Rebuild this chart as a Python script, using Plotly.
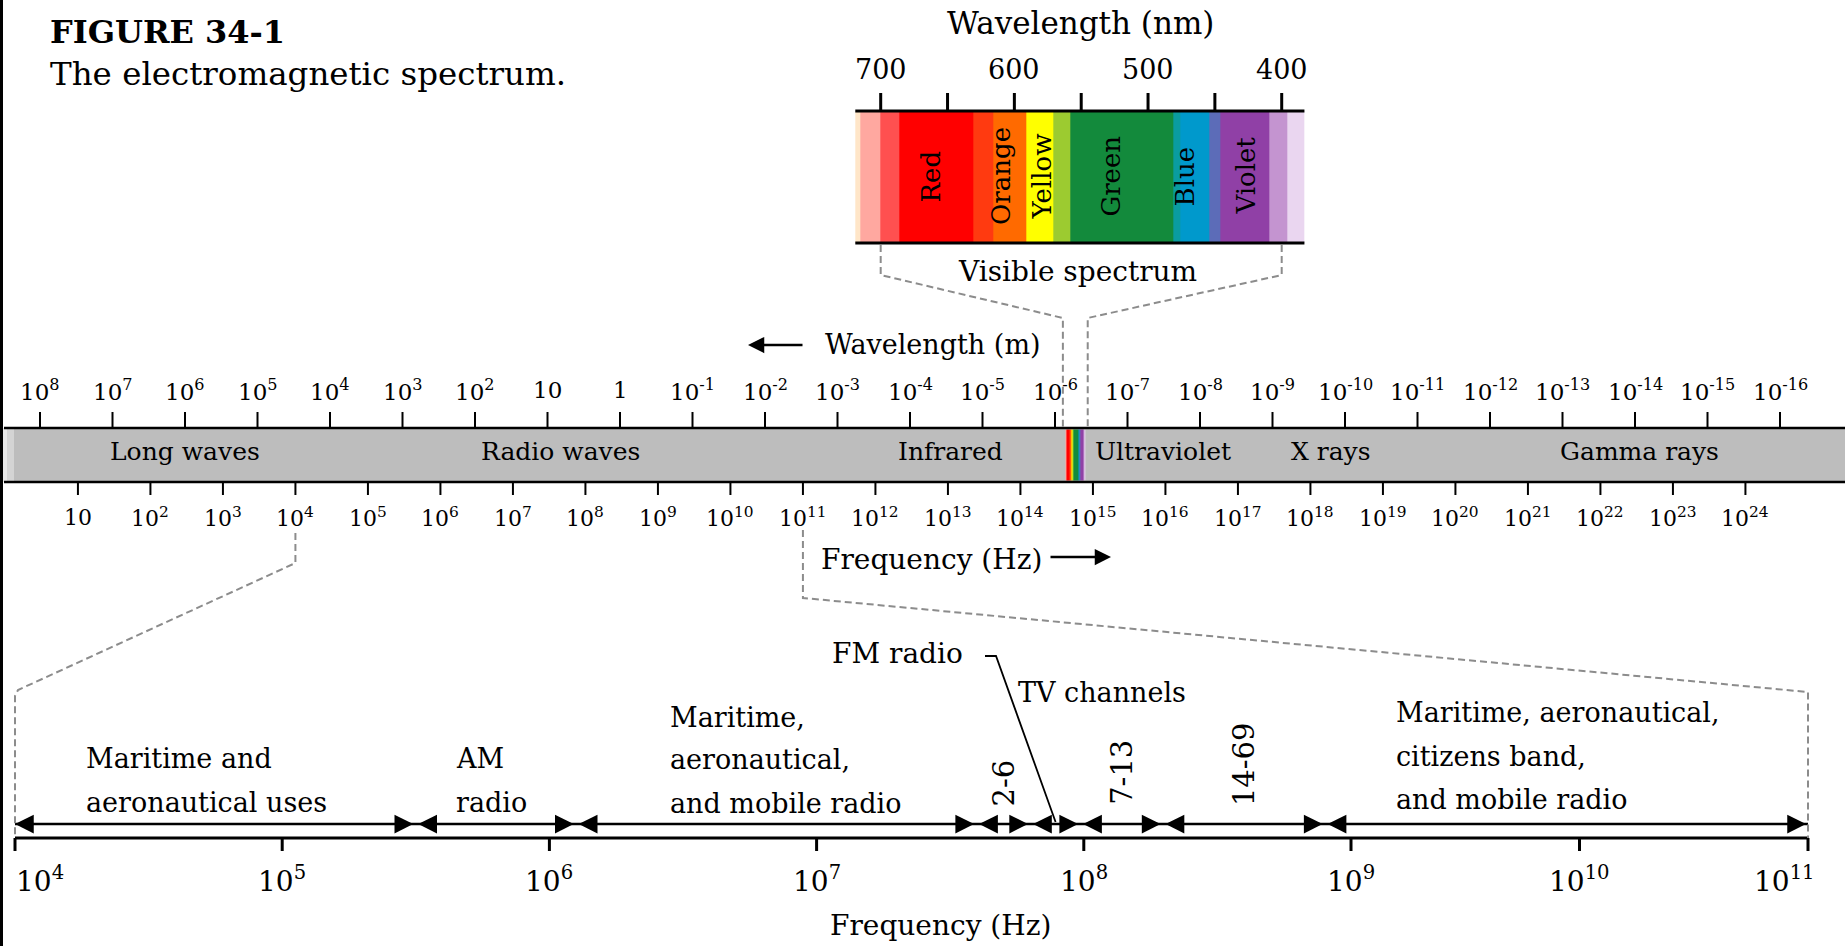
import numpy as np
import plotly.graph_objects as go

SPEED_OF_LIGHT = 2.998e8  # m/s, used to place wavelength ticks on the frequency axis
FONT = "DejaVu Serif"
W, H = 1845, 946

# ---------------- data ----------------
# main spectrum: wavelength ticks (top) and frequency ticks (bottom)
wavelength_ticks_m = [1e8, 1e7, 1e6, 1e5, 1e4, 1e3, 1e2, 1e1, 1e0, 1e-1, 1e-2, 1e-3, 1e-4,
                      1e-5, 1e-6, 1e-7, 1e-8, 1e-9, 1e-10, 1e-11, 1e-12, 1e-13, 1e-14,
                      1e-15, 1e-16]
wavelength_tick_labels = ["10<sup>8</sup>", "10<sup>7</sup>", "10<sup>6</sup>", "10<sup>5</sup>",
                          "10<sup>4</sup>", "10<sup>3</sup>", "10<sup>2</sup>", "10", "1",
                          "10<sup>-1</sup>", "10<sup>-2</sup>", "10<sup>-3</sup>", "10<sup>-4</sup>",
                          "10<sup>-5</sup>", "10<sup>-6</sup>", "10<sup>-7</sup>", "10<sup>-8</sup>",
                          "10<sup>-9</sup>", "10<sup>-10</sup>", "10<sup>-11</sup>", "10<sup>-12</sup>",
                          "10<sup>-13</sup>", "10<sup>-14</sup>", "10<sup>-15</sup>", "10<sup>-16</sup>"]
freq_ticks_hz = [1e1, 1e2, 1e3, 1e4, 1e5, 1e6, 1e7, 1e8, 1e9, 1e10, 1e11, 1e12, 1e13, 1e14,
                 1e15, 1e16, 1e17, 1e18, 1e19, 1e20, 1e21, 1e22, 1e23, 1e24]
freq_tick_labels = ["10", "10<sup>2</sup>", "10<sup>3</sup>", "10<sup>4</sup>", "10<sup>5</sup>",
                    "10<sup>6</sup>", "10<sup>7</sup>", "10<sup>8</sup>", "10<sup>9</sup>",
                    "10<sup>10</sup>", "10<sup>11</sup>", "10<sup>12</sup>", "10<sup>13</sup>",
                    "10<sup>14</sup>", "10<sup>15</sup>", "10<sup>16</sup>", "10<sup>17</sup>",
                    "10<sup>18</sup>", "10<sup>19</sup>", "10<sup>20</sup>", "10<sup>21</sup>",
                    "10<sup>22</sup>", "10<sup>23</sup>", "10<sup>24</sup>"]
band_names = ["Long waves", "Radio waves", "Infrared", "Ultraviolet", "X rays", "Gamma rays"]
band_label_hz = [3e2, 4.5e7, 1.1e13, 9.4e15, 1.9e18, 3.5e22]

# visible spectrum inset (nm)
visible_edges_nm = [719, 715, 700, 686, 631, 616, 591, 571, 558, 481, 476, 454, 446, 409, 396, 383]
visible_colors = ["#FFE6C8", "#FFA8A0", "#FF5050", "#FF0000", "#FF3A10", "#FF6A00", "#FFFF00",
                  "#9CCB30", "#138A3C", "#0A9CA0", "#0099CC", "#5C6CB8", "#9040A6", "#C494D0",
                  "#EAD6F0"]
visible_ticks_nm = [700, 650, 600, 550, 500, 450, 400]
visible_labels_nm = [700, 600, 500, 400]
color_names = ["Red", "Orange", "Yellow", "Green", "Blue", "Violet"]
color_label_nm = [662, 610, 579, 528, 472, 427]

# radio detail (Hz)
radio_ticks_hz = [1e4, 1e5, 1e6, 1e7, 1e8, 1e9, 1e10, 1e11]
radio_tick_labels = ["10<sup>4</sup>", "10<sup>5</sup>", "10<sup>6</sup>", "10<sup>7</sup>",
                     "10<sup>8</sup>", "10<sup>9</sup>", "10<sup>10</sup>", "10<sup>11</sup>"]
radio_edges_hz = [1e4, 3.16e5, 1.26e6, 3.97e7, 6.32e7, 9.73e7, 1.98e8, 8.0e8, 1e11]
tv_channels = ["2-6", "7-13", "14-69"]
tv_band_index = [3, 5, 6]   # band between radio_edges_hz[i] and [i+1]
fm_band_index = 4

# ---------------- axis geometry (pixels) ----------------
MAIN_OFF, MAIN_DEC = 5.43, 72.5          # px at 1 Hz, px per decade
VIS_700, VIS_PX_NM = 880.7, 1.3367       # px of 700 nm, px per nm
RAD_LEFT, RAD_BREAK, RAD_RIGHT = 15.0, 1351.0, 1808.0
RAD_DEC_A = (RAD_BREAK - RAD_LEFT) / 5   # 1e4..1e9
RAD_DEC_B = (RAD_RIGHT - RAD_BREAK) / 2  # 1e9..1e11 (compressed)


def main_px(f):
    return MAIN_OFF + MAIN_DEC * np.log10(f)


def vis_px(nm):
    return VIS_700 + (700 - nm) * VIS_PX_NM


def radio_px(f):
    lf = np.log10(f)
    if lf <= 9:
        return RAD_LEFT + (lf - 4) * RAD_DEC_A
    return RAD_BREAK + (lf - 9) * RAD_DEC_B


def radio_axis(f):
    return "x3" if f <= 1e9 else "x4"


def band_center(i):
    return np.sqrt(radio_edges_hz[i] * radio_edges_hz[i + 1])


fig = go.Figure()


def ticks(xs, y0, y1, xaxis, width):
    x, y = [], []
    for v in xs:
        x += [v, v, None]
        y += [y0, y1, None]
    fig.add_trace(go.Scatter(x=x, y=y, mode="lines", xaxis=xaxis, yaxis="y",
                             line=dict(color="black", width=width),
                             hoverinfo="skip", showlegend=False))


def hline(xs, yv, xaxis, width):
    fig.add_trace(go.Scatter(x=xs, y=[yv] * len(xs), mode="lines", xaxis=xaxis, yaxis="y",
                             line=dict(color="black", width=width),
                             hoverinfo="skip", showlegend=False))


def spectrum(xs, colors, y0, y1, xaxis):
    n = len(colors)
    scale = []
    for i, c in enumerate(colors):
        scale += [[i / n, c], [(i + 1) / n, c]]
    fig.add_trace(go.Heatmap(x=xs, y=[y0, y1], z=[[i + 0.5 for i in range(n)]],
                             zmin=0, zmax=n, colorscale=scale, showscale=False,
                             hoverinfo="skip", xaxis=xaxis, yaxis="y"))


# ---- main bar ----
shapes = [
    dict(type="rect", xref="paper", yref="y", x0=0, x1=1, y0=428, y1=482,
         fillcolor="#BDBDBD", line_width=0, layer="below"),
    dict(type="rect", xref="paper", yref="y", x0=0, x1=7 / W, y0=428, y1=482,
         fillcolor="#E8E8E8", line_width=0, layer="below"),
    dict(type="rect", xref="paper", yref="y", x0=7 / W, x1=14 / W, y0=428, y1=482,
         fillcolor="#D4D4D4", line_width=0, layer="below"),
    dict(type="line", xref="paper", yref="y", x0=4 / W, x1=1, y0=428, y1=428,
         line=dict(color="black", width=2.5)),
    dict(type="line", xref="paper", yref="y", x0=4 / W, x1=1, y0=482, y1=482,
         line=dict(color="black", width=2.5)),
    # left image border
    dict(type="line", xref="paper", yref="y", x0=1.5 / W, x1=1.5 / W, y0=0, y1=H,
         line=dict(color="black", width=3)),
]

ticks([SPEED_OF_LIGHT / l for l in wavelength_ticks_m], 412, 428, "x", 2)
ticks(freq_ticks_hz, 482, 495, "x", 2)

# visible strip inside the main bar (nm converted to Hz)
spectrum([SPEED_OF_LIGHT / (nm * 1e-9) for nm in visible_edges_nm], visible_colors, 429.5, 480.5, "x")

# ---- visible inset ----
spectrum(visible_edges_nm[::-1], visible_colors[::-1], 111, 243, "x2")
hline([visible_edges_nm[0], visible_edges_nm[-1]], 111, "x2", 3)
hline([visible_edges_nm[0], visible_edges_nm[-1]], 243, "x2", 3)
ticks(visible_ticks_nm, 93, 111, "x2", 3)

# ---- radio detail ----
hline([radio_edges_hz[0], 1e9], 824, "x3", 2.5)
hline([1e9, radio_edges_hz[-1]], 824, "x4", 2.5)
hline([radio_ticks_hz[0], 1e9], 838, "x3", 3)
hline([1e9, radio_ticks_hz[-1]], 838, "x4", 3)
ticks([f for f in radio_ticks_hz if f <= 1e9], 838, 851, "x3", 3)
ticks([f for f in radio_ticks_hz if f > 1e9], 838, 851, "x4", 3)

# dashed connectors
DASH = dict(color="#8C8C8C", width=2, dash="7px,4px")


def path(points):
    return "M " + " L ".join(f"{x / W:.5f},{y}" for x, y in points)


strip_lo = main_px(SPEED_OF_LIGHT / (visible_edges_nm[0] * 1e-9)) - 2.5
strip_hi = main_px(SPEED_OF_LIGHT / (visible_edges_nm[-1] * 1e-9)) + 2.5
for pts in [
    [(vis_px(700), 245), (vis_px(700), 275), (strip_lo, 318), (strip_lo, 427)],
    [(vis_px(400), 245), (vis_px(400), 275), (strip_hi, 318), (strip_hi, 427)],
    [(main_px(1e4), 533), (main_px(1e4), 563), (radio_px(1e4) + 3, 690),
     (radio_px(1e4), 696), (radio_px(1e4), 838)],
    [(main_px(1e11), 530), (main_px(1e11), 598), (radio_px(1e11), 692),
     (radio_px(1e11), 838)],
]:
    shapes.append(dict(type="path", xref="paper", yref="y", path=path(pts), line=DASH))

# FM radio leader line
shapes.append(dict(type="path", xref="paper", yref="y",
                   path=path([(985, 656), (996, 656), (radio_px(band_center(fm_band_index)), 822)]),
                   line=dict(color="black", width=1.8)))

# ---------------- text ----------------
annotations = []


def text(t, x, y, size, xref="paper", xanchor="center", yanchor="middle", angle=0, xshift=0):
    annotations.append(dict(text=t, x=x / W if xref == "paper" else x, y=y, xref=xref, yref="y",
                            showarrow=False, xanchor=xanchor, yanchor=yanchor, textangle=angle,
                            xshift=xshift, borderpad=0,
                            font=dict(family=FONT, size=size, color="black")))


def arrow(x, y, xref, dx, size=1.5, width=2.5, standoff=0):
    annotations.append(dict(text="", x=x, y=y, xref=xref, yref="y", showarrow=True,
                            ax=dx, ay=0, arrowhead=2, arrowsize=size, arrowwidth=width,
                            arrowcolor="black", standoff=standoff))


text("<b>FIGURE 34-1</b>", 49, 32, 32, xanchor="left")
text("The electromagnetic spectrum.", 49, 74, 32.5, xanchor="left")

for lab, l in zip(wavelength_tick_labels, wavelength_ticks_m):
    text(lab, np.log10(SPEED_OF_LIGHT / l), 390, 23, xref="x")
for lab, f in zip(freq_tick_labels, freq_ticks_hz):
    text(lab, np.log10(f), 517, 22, xref="x")
for name, f in zip(band_names, band_label_hz):
    text(name, np.log10(f), 451, 25, xref="x")

text("Wavelength (m)", 824, 344, 27, xanchor="left")
arrow(748 / W, 345, "paper", 56, size=1.3)
text("Frequency (Hz)", 820, 559, 28, xanchor="left")
arrow(1111 / W, 557, "paper", -62, size=1.3)

# inset text
text("Wavelength (nm)", 1080, 23, 31)
for nm in visible_labels_nm:
    text(str(nm), nm, 69, 27, xref="x2")
for name, nm in zip(color_names, color_label_nm):
    text(name, nm, 176, 26, xref="x2", angle=-90)
text("Visible spectrum", 1077, 271, 28)

# radio text
for i, (lab, f) in enumerate(zip(radio_tick_labels, radio_ticks_hz)):
    anchor = "left" if i == 0 else ("right" if i == len(radio_ticks_hz) - 1 else "center")
    text(lab, np.log10(f), 879, 28, xref=radio_axis(f), xanchor=anchor,
         xshift=8 if i == len(radio_ticks_hz) - 1 else 0)
text("Frequency (Hz)", 940, 925, 28)

RS = 27
text("Maritime and", 85, 758, RS, xanchor="left")
text("aeronautical uses", 85, 802, RS, xanchor="left")
text("AM", 455, 758, RS, xanchor="left")
text("radio", 455, 802, RS, xanchor="left")
text("Maritime,", 669, 717, RS, xanchor="left")
text("aeronautical,", 669, 759, RS, xanchor="left")
text("and mobile radio", 669, 803, RS, xanchor="left")
text("FM radio", 964, 653, 28, xanchor="right")
text("TV channels", 1017, 692, RS, xanchor="left")
text("Maritime, aeronautical,", 1395, 712, RS, xanchor="left")
text("citizens band,", 1395, 756, RS, xanchor="left")
text("and mobile radio", 1395, 799, RS, xanchor="left")
for name, i, yc in zip(tv_channels, tv_band_index, [783, 772, 764]):
    f = band_center(i)
    text(name, np.log10(f), yc, 29, xref=radio_axis(f), angle=-90)

# band boundary arrowheads
for f in radio_edges_hz[1:-1]:
    arrow(np.log10(f), 824, radio_axis(f), -20, standoff=2.5)
    arrow(np.log10(f), 824, radio_axis(f), 20, standoff=2.5)
arrow(np.log10(radio_edges_hz[0]), 824, "x3", 20)
arrow(np.log10(radio_edges_hz[-1]), 824, "x4", -20, standoff=2)

fig.update_layout(
    width=W, height=H, margin=dict(l=0, r=0, t=0, b=0),
    paper_bgcolor="white", plot_bgcolor="rgba(0,0,0,0)", showlegend=False,
    xaxis=dict(type="log", domain=[0, 1], anchor="y", visible=False,
               range=[(0 - MAIN_OFF) / MAIN_DEC, (W - MAIN_OFF) / MAIN_DEC]),
    xaxis2=dict(domain=[800 / W, 1360 / W], anchor="y", visible=False,
                range=[700 - (800 - VIS_700) / VIS_PX_NM, 700 - (1360 - VIS_700) / VIS_PX_NM]),
    xaxis3=dict(type="log", domain=[0, 1400 / W], anchor="y", visible=False,
                range=[4 - RAD_LEFT / RAD_DEC_A, 4 + (1400 - RAD_LEFT) / RAD_DEC_A]),
    xaxis4=dict(type="log", domain=[1300 / W, 1], anchor="y", visible=False,
                range=[9 - (RAD_BREAK - 1300) / RAD_DEC_B, 9 + (W - RAD_BREAK) / RAD_DEC_B]),
    yaxis=dict(range=[H, 0], domain=[0, 1], visible=False),
    shapes=shapes, annotations=annotations,
)

# the page body has a default 8px margin; drop it so the figure sits at the window corner
fig.write_html("out.html", config={"displayModeBar": False},
               post_script="document.body.style.margin='0';document.body.style.overflow='hidden';")
